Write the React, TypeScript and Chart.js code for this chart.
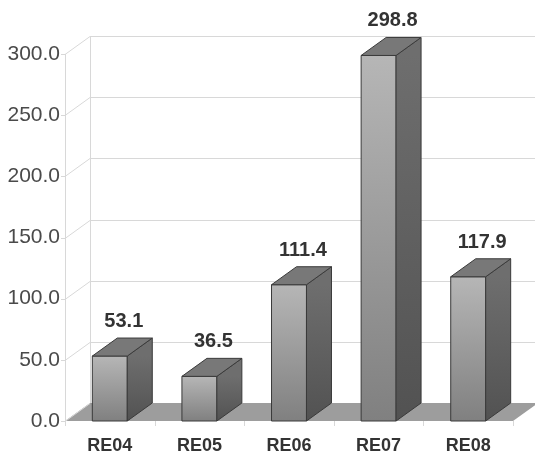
import React, { useEffect, useRef } from "react";
import { Chart, registerables } from "chart.js";

Chart.register(...registerables);

const categories = ["RE04", "RE05", "RE06", "RE07", "RE08"];
const values = [53.1, 36.5, 111.4, 298.8, 117.9];
const yTicks = [0, 50, 100, 150, 200, 250, 300];

const DX = 25;
const DY = -18;
const FONT = "'Liberation Sans', Arial, sans-serif";

const threeD = {
  id: "threeD",
  beforeDatasetsDraw(chart: any) {
    const { ctx, chartArea } = chart;
    const ys = chart.scales.y;
    const L = chartArea.left;
    const R = chartArea.right;
    const B = ys.getPixelForValue(0);
    const T = ys.getPixelForValue(300);
    ctx.save();
    // floor
    ctx.fillStyle = "#9d9d9d";
    ctx.beginPath();
    ctx.moveTo(L, B);
    ctx.lineTo(R, B);
    ctx.lineTo(R + DX, B + DY);
    ctx.lineTo(L + DX, B + DY);
    ctx.closePath();
    ctx.fill();
    // grid lines
    ctx.strokeStyle = "#d8d8d8";
    ctx.lineWidth = 1;
    for (const v of yTicks) {
      const y = Math.round(ys.getPixelForValue(v)) + 0.5;
      ctx.beginPath();
      if (v > 0) {
        ctx.moveTo(L + DX, y + DY);
        ctx.lineTo(R + DX + 10, y + DY);
      }
      ctx.moveTo(L, y);
      ctx.lineTo(L + DX, y + DY);
      ctx.moveTo(L - 4, y);
      ctx.lineTo(L, y);
      ctx.stroke();
    }
    ctx.beginPath();
    ctx.moveTo(Math.round(L) + 0.5, B);
    ctx.lineTo(Math.round(L) + 0.5, T);
    ctx.moveTo(Math.round(L + DX) + 0.5, B + DY);
    ctx.lineTo(Math.round(L + DX) + 0.5, T + DY);
    ctx.stroke();
    // bottom tick marks
    const n = categories.length;
    const w = (R - L) / n;
    ctx.beginPath();
    for (let i = 0; i <= n; i++) {
      const x = Math.round(L + i * w) + 0.5;
      ctx.moveTo(x, B);
      ctx.lineTo(x, B + 5);
    }
    ctx.stroke();
    ctx.restore();
  },
  afterDatasetsDraw(chart: any) {
    const { ctx } = chart;
    const meta = chart.getDatasetMeta(0);
    ctx.save();
    meta.data.forEach((bar: any, i: number) => {
      const half = bar.width / 2;
      const l = bar.x - half;
      const r = bar.x + half;
      const t = bar.y;
      const b = bar.base;
      ctx.strokeStyle = "#3a3a3a";
      ctx.lineWidth = 1;
      // front face
      const fg = ctx.createLinearGradient(0, t, 0, b);
      fg.addColorStop(0, "#b6b6b6");
      fg.addColorStop(1, "#808080");
      ctx.fillStyle = fg;
      ctx.beginPath();
      ctx.rect(l, t, r - l, b - t);
      ctx.fill();
      ctx.stroke();
      // side face
      const sg = ctx.createLinearGradient(0, t, 0, b);
      sg.addColorStop(0, "#6e6e6e");
      sg.addColorStop(1, "#525252");
      ctx.fillStyle = sg;
      ctx.beginPath();
      ctx.moveTo(r, t);
      ctx.lineTo(r + DX, t + DY);
      ctx.lineTo(r + DX, b + DY);
      ctx.lineTo(r, b);
      ctx.closePath();
      ctx.fill();
      ctx.stroke();
      // top face
      ctx.fillStyle = "#787878";
      ctx.beginPath();
      ctx.moveTo(l, t);
      ctx.lineTo(l + DX, t + DY);
      ctx.lineTo(r + DX, t + DY);
      ctx.lineTo(r, t);
      ctx.closePath();
      ctx.fill();
      ctx.stroke();
      // value label
      ctx.fillStyle = "#333";
      ctx.font = "bold 20px " + FONT;
      ctx.textAlign = "center";
      ctx.textBaseline = "alphabetic";
      ctx.fillText(values[i].toFixed(1), bar.x + 14, t + DY - 11);
    });
    ctx.restore();
  },
};

export default function App() {
  const ref = useRef<HTMLCanvasElement>(null);
  useEffect(() => {
    document.body.style.margin = "0";
    const canvas = ref.current!;
    const chart = new Chart(canvas, {
      type: "bar",
      data: {
        labels: categories,
        datasets: [
          {
            data: values,
            backgroundColor: "rgba(0,0,0,0)",
            borderWidth: 0,
            barPercentage: 0.39,
            categoryPercentage: 1,
          },
        ],
      },
      options: {
        responsive: false,
        animation: false,
        layout: { padding: { top: 54, right: 22, bottom: 0, left: 0 } },
        plugins: { legend: { display: false }, tooltip: { enabled: false } },
        scales: {
          x: {
            grid: { display: false, drawTicks: false },
            border: { display: false },
            ticks: {
              color: "#333",
              font: { family: FONT, size: 18, weight: "bold" },
              padding: 14,
              maxRotation: 0,
            },
            afterFit: (s: any) => {
              s.height = 31;
            },
          },
          y: {
            min: 0,
            max: 300,
            grid: { display: false, drawTicks: false },
            border: { display: false },
            ticks: {
              stepSize: 50,
              color: "#4a4a4a",
              padding: 5,
              font: { family: FONT, size: 21 },
              callback: (v: any) => Number(v).toFixed(1),
            },
            afterFit: (s: any) => {
              s.width = 65;
            },
          },
        },
      },
      plugins: [threeD],
    });
    return () => chart.destroy();
  }, []);
  return (
    <div style={{ width: 535, height: 452 }}>
      <canvas ref={ref} width={535} height={452} style={{ display: "block" }} />
    </div>
  );
}
